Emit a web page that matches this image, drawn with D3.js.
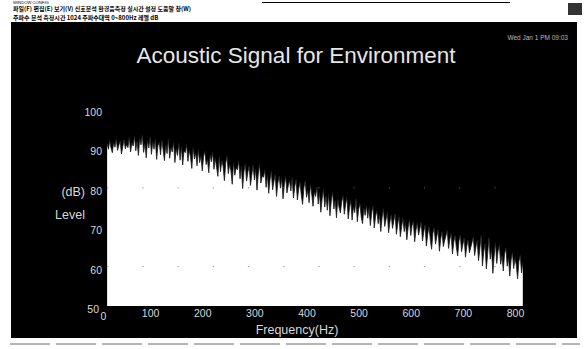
<!DOCTYPE html>
<html><head><meta charset="utf-8">
<script src="https://cdn.jsdelivr.net/npm/d3@7"></script>
<style>
html,body{margin:0;padding:0;background:#fff;}
svg{display:block;font-family:"Liberation Sans",Arial,sans-serif;}
</style></head>
<body><svg id="c" width="587" height="349"></svg>
<script>
// ---- data ----
const title = "Acoustic Signal for Environment";
const xLabel = "Frequency(Hz)";
const yLabelLines = ["(dB)", "Level"];
const stampText = "Wed Jan 1 PM 09:03";
const menuLine1 = "WINDOW CONFIG";
const menuLine2 = "파일(F) 편집(E) 보기(V) 신호분석 환경음측정 실시간 설정 도움말 창(W)";
const menuLine3 = "주파수 분석   측정시간 1024   주파수대역 0~800Hz   레벨 dB";
const xTicks = [0, 100, 200, 300, 400, 500, 600, 700, 800];
const yTicks = [50, 60, 70, 80, 90, 100];
const gridLevels = [60, 80];
const freqStart = 17.5, freqStep = 2.5;
const levels = [
 91.2,89.8,92.0,90.1,88.9,91.5,90.3,92.4,89.5,90.8,91.9,88.6,90.4,92.2,89.9,91.0,90.2,92.8,89.1,91.4,
 90.6,93.1,89.4,91.8,88.2,92.5,90.9,93.4,89.0,91.2,87.6,92.0,90.1,92.9,88.5,91.6,89.8,92.3,87.2,90.7,
 91.5,88.4,92.1,89.6,86.9,90.8,88.7,92.4,87.5,90.2,89.1,91.7,86.4,89.9,88.2,91.3,87.0,90.5,85.8,89.4,
 88.9,91.0,86.7,89.5,87.8,84.9,90.2,87.3,88.8,85.6,89.7,86.4,88.1,84.3,87.9,89.3,85.9,87.2,83.8,88.4,
 86.6,89.0,84.7,87.5,85.2,82.9,87.9,84.1,86.8,85.5,81.8,86.2,88.1,83.6,85.9,84.4,80.9,86.5,83.2,85.0,
 84.6,86.9,82.3,85.4,79.8,84.1,86.1,81.7,83.9,85.6,80.6,83.2,85.8,82.0,84.7,79.4,83.5,86.0,81.2,83.0,
 82.7,84.5,80.1,83.3,78.6,82.0,84.2,79.5,81.6,83.4,77.8,81.1,83.0,79.9,82.4,77.2,80.8,82.9,78.7,80.5,
 81.9,79.2,82.6,77.4,80.3,82.1,76.9,79.7,81.4,78.1,75.8,80.0,81.8,77.6,79.3,76.2,80.9,78.4,75.3,79.0,
 77.8,80.2,75.9,78.7,73.8,77.3,79.5,75.1,77.9,74.3,78.5,72.9,76.6,78.9,74.6,76.8,72.4,77.1,75.0,73.6,
 76.4,78.0,73.3,75.7,77.6,72.1,74.9,76.8,71.8,75.2,73.7,77.2,71.4,74.5,76.1,72.6,70.9,74.8,73.0,75.6,
 72.3,74.9,70.4,73.6,75.4,69.8,72.8,74.2,70.9,73.1,68.9,72.4,74.7,70.2,71.9,73.8,68.6,71.3,73.2,69.7,
 71.6,73.5,68.2,70.8,72.7,67.6,70.1,72.2,68.9,71.0,66.8,69.9,72.0,67.9,70.4,71.5,66.3,69.2,71.1,68.0,
 69.6,71.3,66.5,68.8,70.6,65.2,68.1,70.2,66.9,64.4,68.5,69.8,65.7,67.6,69.4,63.9,67.0,68.9,65.1,66.6,
 67.8,69.2,64.6,66.9,68.4,63.2,66.2,67.9,64.9,62.7,66.5,68.1,63.8,65.6,67.3,62.4,65.2,66.8,63.5,64.8,
 66.1,67.6,62.8,64.9,66.7,61.5,64.3,68.0,60.2,63.7,65.8,59.4,63.1,67.4,61.9,64.4,58.3,62.6,66.2,60.8,
 63.9,65.5,60.6,62.8,58.9,63.2,64.7,60.1,62.3,57.6,61.7,63.6,59.5,62.0,60.4,56.9,61.3,62.9,58.4,61.0
];
const series = levels.map((v, i) => ({f: freqStart + i * freqStep, v}));

// ---- drawing ----
const svg = d3.select("#c");
svg.append("rect").attr("x",0).attr("y",0).attr("width",587).attr("height",349).attr("fill","#fff");
svg.append("line").attr("x1",262).attr("x2",510).attr("y1",2.5).attr("y2",2.5).attr("stroke","#000").attr("stroke-width",1.2);
svg.append("text").attr("x",13).attr("y",4).attr("font-size",4.2).attr("fill","#000").text(menuLine1);
svg.append("text").attr("x",13).attr("y",11).attr("font-size",6).attr("font-weight","bold")
   .attr("font-family","'Noto Sans CJK KR',sans-serif").attr("fill","#000").text(menuLine2);
svg.append("text").attr("x",13).attr("y",20).attr("font-size",6).attr("font-weight","bold")
   .attr("font-family","'Noto Sans CJK KR',sans-serif").attr("fill","#000").text(menuLine3);
svg.append("rect").attr("x",568).attr("y",3).attr("width",14).attr("height",12).attr("fill","#333");
svg.append("line").attr("x1",10).attr("x2",580).attr("y1",344).attr("y2",344).attr("stroke","#444").attr("stroke-width",0.8).attr("stroke-dasharray","40,6");

// black panel
svg.append("rect").attr("x",11).attr("y",22).attr("width",566).attr("height",316).attr("fill","#000");

const x = d3.scaleLinear().domain([0, 800]).range([98, 515]);
const y = d3.scaleLinear().domain([50, 100]).range([306, 109]);

const area = d3.area().x(d => x(d.f)).y0(y(50)).y1(d => y(d.v));
svg.append("path").datum(series).attr("d", area).attr("fill", "#fff");
const line = d3.line().x(d => x(d.f)).y(d => y(d.v));
svg.append("path").datum(series).attr("d", line).attr("fill","none").attr("stroke","#1a1a1a").attr("stroke-width",0.8);

svg.append("g").selectAll("line").data(gridLevels).join("line")
  .attr("x1", x(freqStart)).attr("x2", x(800)).attr("y1", d => y(d)).attr("y2", d => y(d))
  .attr("stroke","#777").attr("stroke-width",0.8).attr("stroke-dasharray","1.2,34");

const xAxis = svg.append("g").attr("transform", `translate(0,${y(50)})`)
  .call(d3.axisBottom(x).tickValues(xTicks).tickSize(0).tickPadding(4));
xAxis.select(".domain").remove();
xAxis.selectAll("text").attr("fill","#d8d8d8").attr("font-size",10.5)
  .attr("font-family","'Liberation Sans',Arial,sans-serif")
  .attr("dx", d => d === 0 ? 5 : 0).attr("dy", d => d === 0 ? "0.95em" : "0.71em");

const yAxis = svg.append("g").attr("transform", `translate(102,0)`)
  .call(d3.axisLeft(y).tickValues(yTicks).tickSize(0).tickPadding(0));
yAxis.select(".domain").remove();
yAxis.selectAll("text").attr("fill","#d8d8d8").attr("font-size",10.5)
  .attr("font-family","'Liberation Sans',Arial,sans-serif").attr("dy","0.62em")
  .attr("dx", d => d === 50 ? -3 : 0);

svg.append("text").attr("x",296).attr("y",63).attr("text-anchor","middle")
  .attr("font-size",22.5).attr("fill","#e6e6e6").attr("font-weight","300").text(title);
svg.append("text").attr("x",568).attr("y",40).attr("text-anchor","end")
  .attr("font-size",6.5).attr("fill","#bbb").text(stampText);
svg.append("text").attr("x",297).attr("y",334).attr("text-anchor","middle")
  .attr("font-size",12.5).attr("fill","#d8d8d8").text(xLabel);
svg.selectAll(".ylab").data(yLabelLines).join("text").attr("class","ylab")
  .attr("x",85).attr("y",(d,i)=>196 + i*23).attr("text-anchor","end")
  .attr("font-size",12.5).attr("fill","#d8d8d8").text(d=>d);
</script></body></html>
